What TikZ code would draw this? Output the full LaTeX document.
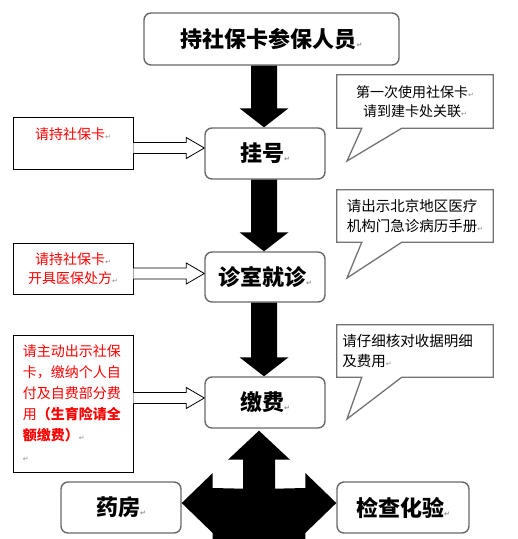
\documentclass[tikz,border=0pt]{standalone}
\usepackage{fontspec}
\newfontfamily\cjk{Noto Sans CJK SC}
\newfontfamily\symf{DejaVu Sans}
\usetikzlibrary{calc}
\definecolor{retgray}{RGB}{140,140,140}
\definecolor{mainborder}{RGB}{105,105,105}
\definecolor{callborder}{RGB}{115,115,115}
\newcommand\pmark{{\symf\fontsize{7}{7}\selectfont\textcolor{retgray}{↵}}}
\newcommand\bigdown[2]{\fill[black] ($(#1)+(-13,0)$) -- ($(#2)+(-13,-19)$) -- ($(#2)+(-24.5,-19)$) -- (#2) -- ($(#2)+(24.5,-19)$) -- ($(#2)+(13,-19)$) -- ($(#1)+(13,0)$) -- cycle;}
\newcommand\hollowarrow[2]{\draw[hollow] ($(#1)+(0,-5.5)$) -- ($(#2)+(-18,-5.5)$) -- ($(#2)+(-18,-10.5)$) -- (#2) -- ($(#2)+(-18,10.5)$) -- ($(#2)+(-18,5.5)$) -- ($(#1)+(0,5.5)$);}
\begin{document}
\begin{tikzpicture}[x=1pt,y=-1pt,
  mainbox/.style={draw=mainborder,line width=1.4pt,rounded corners=7pt,fill=white,font=\cjk\bfseries\fontsize{22}{26}\selectfont,inner sep=0pt},
  leftbox/.style={draw=black,line width=0.9pt,fill=white,text=red,font=\cjk\fontsize{14}{19}\selectfont,inner sep=0pt,align=center,minimum width=120pt},
  callbox/.style={font=\cjk\fontsize{14.5}{20}\selectfont,inner sep=0pt,minimum width=156pt},
  callline/.style={draw=callborder,line width=1.3pt,line join=miter},
  hollow/.style={draw=black,line width=0.8pt,fill=white,line join=miter}]
\useasboundingbox[fill=white] (0,0) rectangle (518,539);

% main flow boxes
\node[mainbox,minimum width=255pt,minimum height=52pt] (start) at (271.5,39) {持社保卡参保人员\pmark};
\node[mainbox,minimum width=120pt,minimum height=51pt] (reg) at (265,153.5) {挂号\pmark};
\node[mainbox,minimum width=120pt,minimum height=50pt] (clinic) at (265,277) {诊室就诊\pmark};
\node[mainbox,minimum width=120pt,minimum height=51pt] (pay) at (265,402.5) {缴费\pmark};
\node[mainbox,minimum width=120pt,minimum height=51pt] (pharm) at (121,507.5) {药房\pmark};
\node[mainbox,minimum width=132pt,minimum height=51pt] (lab) at (403,507.5) {检查化验\pmark};

% black down arrows
\coordinate (d1) at (264,0 |- start.south);
\coordinate (d1t) at (264,0 |- reg.north);
\bigdown{d1}{d1t}
\coordinate (d2) at (264,0 |- reg.south);
\coordinate (d2t) at (264,0 |- clinic.north);
\bigdown{d2}{d2t}
\coordinate (d3) at (264,0 |- clinic.south);
\coordinate (d3t) at (264,0 |- pay.north);
\bigdown{d3}{d3t}

% three-way arrow
\coordinate (ut) at ($(pay.south)+(-6,2)$);
\coordinate (lt) at (pharm.east |- 0,503);
\coordinate (rt) at (lab.west |- 0,503);
\fill[black] (ut) -- ($(ut)+(31,29)$) -- ($(ut)+(16,29)$) -- ($(ut)+(16,58)$) -- ($(rt)+(-31,-15)$) -- ($(rt)+(-31,-30)$) -- (rt) -- ($(rt)+(-31,30)$) -- ($(rt)+(-31,40)$) -- ($(lt)+(31,40)$) -- ($(lt)+(31,30)$) -- (lt) -- ($(lt)+(31,-30)$) -- ($(lt)+(31,-15)$) -- ($(ut)+(-16,58)$) -- ($(ut)+(-16,29)$) -- ($(ut)+(-31,29)$) -- cycle;

% left notes
\node[leftbox,minimum height=52pt] (l1) at (73,143) {请持社保卡\pmark\\\mbox{}};
\node[leftbox,minimum height=51pt] (l2) at (73,268.5) {请持社保卡\pmark\\开具医保处方\pmark};
\node[leftbox,minimum height=137pt,align=left,text width=100pt,font=\cjk\fontsize{14}{21}\selectfont] (l3) at (73,403.5)
  {请主动出示社保\\卡，缴纳个人自\\付及自费部分费\\用{\bfseries （生育险请全}\\{\bfseries 额缴费）}\pmark\\\pmark};

% hollow arrows
\coordinate (h1s) at (l1.east |- 0,148);
\coordinate (h1t) at (reg.west |- 0,148);
\hollowarrow{h1s}{h1t}
\coordinate (h2s) at (l2.east |- 0,273.5);
\coordinate (h2t) at (clinic.west |- 0,273.5);
\hollowarrow{h2s}{h2t}
\coordinate (h3s) at (l3.east |- 0,398);
\coordinate (h3t) at (pay.west |- 0,398);
\hollowarrow{h3s}{h3t}

% callouts
\node[callbox,minimum height=53pt,align=center,font=\cjk\fontsize{14}{19}\selectfont] (c1) at (415,101.5) {第一次使用社保卡\pmark\\请到建卡处关联\pmark};
\coordinate (c1tip) at (347,161);
\draw[callline] (c1.north west) -- (c1.north east) -- (c1.south east) -- ($(c1.south west)+(65,0)$) -- (c1tip) -- ($(c1.south west)+(25,0)$) -- (c1.south west) -- cycle;

\node[callbox,minimum height=52pt,align=left] (c2) at (415,216) {请出示北京地区医疗\\机构门急诊病历手册\pmark};
\coordinate (c2tip) at (347,278);
\draw[callline] (c2.north west) -- (c2.north east) -- (c2.south east) -- ($(c2.south west)+(65,0)$) -- (c2tip) -- ($(c2.south west)+(25,0)$) -- (c2.south west) -- cycle;

\node[callbox,minimum height=52pt,align=left] (c3) at (415,351) {请仔细核对收据明细\\及费用\pmark\hspace*{96pt}};
\coordinate (c3tip) at (347,419);
\draw[callline] (c3.north west) -- (c3.north east) -- (c3.south east) -- ($(c3.south west)+(65,0)$) -- (c3tip) -- ($(c3.south west)+(25,0)$) -- (c3.south west) -- cycle;
\end{tikzpicture}
\end{document}
